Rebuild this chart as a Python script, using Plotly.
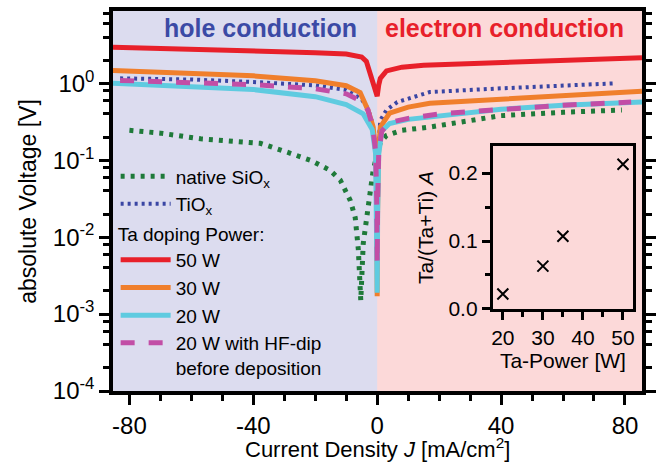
import plotly.graph_objects as go

# ---------------- data ----------------
J_sio = [-80, -70, -57, -37.7, -28, -21.6, -15.2, -11.9, -8.7, -7.1, -6.1, -5.5, -5.3,
         -4.5, -2.9, -1.3, 0, 1, 3, 8, 17, 40, 60, 79]
V_sio = [0.245, 0.225, 0.19, 0.166, 0.123, 0.10, 0.074, 0.055, 0.030, 0.018, 0.007, 0.0032, 0.0015,
         0.0083, 0.022, 0.074, 0.12, 0.17, 0.21, 0.245, 0.27, 0.38, 0.42, 0.45]

J_tio = [-83, -60, -40, -20, -10, -5, -3, -1.5, -0.5, 0, 1, 3, 6.5, 17, 40, 60, 77]
V_tio = [1.16, 1.12, 1.04, 0.94, 0.82, 0.62, 0.47, 0.30, 0.16, 0.10, 0.33, 0.45, 0.57, 0.77, 0.86, 0.94, 1.0]

J_50 = [-85.3, -60, -40, -20, -10, -5, -3.5, -1.5, -0.5, 0, 0.5, 1, 3, 8, 15, 40, 60, 85.5]
V_50 = [2.94, 2.8, 2.65, 2.5, 2.4, 2.2, 1.93, 1.05, 0.8, 0.68, 0.95, 1.16, 1.45, 1.62, 1.72, 1.87, 1.99, 2.15]

J_30 = [-85.3, -60, -40, -20, -10, -5.5, -3, -1.3, -0.4, -0.1, 0, 0.1, 0.4, 1, 4, 10, 17, 40, 60, 85.5]
V_30 = [1.47, 1.37, 1.25, 1.08, 0.93, 0.76, 0.45, 0.27, 0.12, 0.02, 0.0017, 0.02, 0.12, 0.27, 0.41, 0.49, 0.55, 0.62, 0.70, 0.79]

J_20 = [-85.3, -60, -40, -20, -15, -10, -4.5, -1.6, -0.5, -0.15, 0, 0.15, 0.5, 1.5, 4, 10, 20, 40, 60, 85.5]
V_20 = [1.0, 0.92, 0.83, 0.67, 0.60, 0.53, 0.40, 0.25, 0.12, 0.02, 0.0019, 0.02, 0.12, 0.24, 0.30, 0.34, 0.38, 0.46, 0.52, 0.57]

J_hf = [-83, -60, -40, -20, -10, -5, -3, -1.5, -0.5, -0.15, 0, 0.15, 0.5, 1.5, 4, 10, 20, 40, 60, 82]
V_hf = [1.09, 1.03, 0.96, 0.85, 0.73, 0.58, 0.45, 0.28, 0.13, 0.03, 0.0045, 0.03, 0.13, 0.24, 0.31, 0.35, 0.40, 0.46, 0.52, 0.57]

ta_power = [20, 30, 35, 50]
ta_frac = [0.022, 0.063, 0.107, 0.213]

y_tickvals = [1e-4, 1e-3, 1e-2, 1e-1, 1]
y_ticktext = ["10<sup>-4</sup>", "10<sup>-3</sup>", "10<sup>-2</sup>", "10<sup>-1</sup>", "10<sup>0</sup>"]
x_tickvals = [-80, -40, 0, 40, 80]

# ---------------- style ----------------
FONT = "Liberation Sans, Arial, sans-serif"
C_RED = "#e8202a"
C_ORANGE = "#f07f2c"
C_CYAN = "#5fcbe0"
C_MAG = "#c24ea6"
C_BLUE = "#3a46a4"
C_GREEN = "#1f7a3a"
BG_LEFT = "#dcdcef"
BG_RIGHT = "#fcd9d9"

fig = go.Figure()

fig.add_trace(go.Scatter(x=J_sio, y=V_sio, mode="lines", name="native SiO<sub>x</sub>",
                         line=dict(color=C_GREEN, width=5, dash="4px,6px"), legend="legend"))
fig.add_trace(go.Scatter(x=J_tio, y=V_tio, mode="lines", name="TiO<sub>x</sub>",
                         line=dict(color=C_BLUE, width=4, dash="3px,4px"), legend="legend"))
fig.add_trace(go.Scatter(x=J_50, y=V_50, mode="lines", name="50 W",
                         line=dict(color=C_RED, width=5), legend="legend2"))
fig.add_trace(go.Scatter(x=J_30, y=V_30, mode="lines", name="30 W",
                         line=dict(color=C_ORANGE, width=5), legend="legend2"))
fig.add_trace(go.Scatter(x=J_20, y=V_20, mode="lines", name="20 W",
                         line=dict(color=C_CYAN, width=5), legend="legend2"))
fig.add_trace(go.Scatter(x=J_hf, y=V_hf, mode="lines", name="20 W with HF-dip<br>before deposition",
                         line=dict(color=C_MAG, width=5, dash="14px,14px"), legend="legend2"))

# inset
fig.add_trace(go.Scatter(x=ta_power, y=ta_frac, mode="markers", xaxis="x2", yaxis="y2", showlegend=False,
                         marker=dict(symbol="x-thin", size=11, color="black", line=dict(width=2, color="black"))))

# minor tick positions for log axis (2,4,6,8 per decade)
minor_vals = [m * 10 ** e for e in range(-4, 1) for m in (2, 4, 6, 8)]

axis_font = dict(family=FONT, size=24, color="black")

fig.update_layout(
    width=661, height=463,
    margin=dict(l=113, r=19, t=11, b=72, autoexpand=False),
    paper_bgcolor="white",
    plot_bgcolor=BG_RIGHT,
    font=dict(family=FONT, color="black"),
    xaxis=dict(
        range=[-85.3, 85.5], tickvals=x_tickvals, ticktext=[str(v) for v in x_tickvals],
        ticks="outside", ticklen=10, tickwidth=3, tickcolor="black",
        minor=dict(dtick=10, ticks="outside", ticklen=6, tickwidth=2.5, tickcolor="black"),
        showline=True, linewidth=3.5, linecolor="black", mirror=True,
        showgrid=False, zeroline=False, tickfont=axis_font, automargin=False,
    ),
    yaxis=dict(
        type="log", range=[-4, 0.94], tickvals=y_tickvals, ticktext=y_ticktext,
        ticks="outside", ticklen=10, tickwidth=3, tickcolor="black",
        minor=dict(tickmode="array", tickvals=minor_vals, ticks="outside", ticklen=6, tickwidth=2.5,
                   tickcolor="black"),
        showline=True, linewidth=3.5, linecolor="black", mirror="allticks",
        showgrid=False, zeroline=False, tickfont=axis_font, automargin=False,
    ),
    xaxis2=dict(
        domain=[0.718, 0.983], anchor="y2", range=[17.5, 52.5], tickvals=[20, 30, 40, 50],
        ticks="outside", ticklen=8, tickwidth=3, tickcolor="black",
        minor=dict(dtick=5, tick0=0, ticks="outside", ticklen=5, tickwidth=2.5, tickcolor="black"),
        showline=True, linewidth=3, linecolor="black", mirror=True,
        showgrid=False, zeroline=False, tickfont=dict(family=FONT, size=21), automargin=False,
        title=dict(text="Ta-Power [W]", font=dict(family=FONT, size=21), standoff=0),
    ),
    yaxis2=dict(
        domain=[0.216, 0.645], anchor="x2", range=[0, 0.24], tickvals=[0, 0.1, 0.2],
        ticktext=["0.0", "0.1", "0.2"],
        ticks="outside", ticklen=8, tickwidth=3, tickcolor="black",
        minor=dict(dtick=0.05, tick0=0, ticks="outside", ticklen=5, tickwidth=2.5, tickcolor="black"),
        showline=True, linewidth=3, linecolor="black", mirror=True,
        showgrid=False, zeroline=False, tickfont=dict(family=FONT, size=21), automargin=False,
        title=dict(text="Ta/(Ta+Ti) <i>A</i>", font=dict(family=FONT, size=21), standoff=10),
    ),
    legend=dict(
        x=0.005, y=0.615, xanchor="left", yanchor="top", bgcolor="rgba(0,0,0,0)",
        font=dict(family=FONT, size=19), itemwidth=50, tracegroupgap=0,
    ),
    legend2=dict(
        x=0.005, y=0.46, xanchor="left", yanchor="top", bgcolor="rgba(0,0,0,0)",
        font=dict(family=FONT, size=19), itemwidth=50, valign="top",
        title=dict(text="Ta doping Power:", font=dict(family=FONT, size=19)),
    ),
    shapes=[dict(type="rect", xref="x", yref="paper", x0=-85.3, x1=0, y0=0, y1=1,
                 fillcolor=BG_LEFT, line=dict(width=0), layer="below")],
    annotations=[
        dict(text="<b>hole conduction</b>", x=-37.7, y=0.955, xref="x", yref="paper", showarrow=False,
             yanchor="middle", font=dict(family=FONT, size=25, color="#3b4aa5")),
        dict(text="<b>electron conduction</b>", x=41.1, y=0.955, xref="x", yref="paper", showarrow=False,
             yanchor="middle", font=dict(family=FONT, size=25, color=C_RED)),
        dict(text="Current Density <i>J</i> [mA/cm<sup>2</sup>]", x=0.5, y=-0.149, xref="paper",
             yref="paper", showarrow=False, yanchor="middle", font=dict(family=FONT, size=22)),
        dict(text="absolute Voltage [V]", x=-0.161, y=0.5, xref="paper", yref="paper", textangle=-90,
             showarrow=False, xanchor="center", yanchor="middle", font=dict(family=FONT, size=23)),
    ],
)

fig.write_html("out.html", config={"displayModeBar": False},
               post_script="document.body.style.margin='0';")
